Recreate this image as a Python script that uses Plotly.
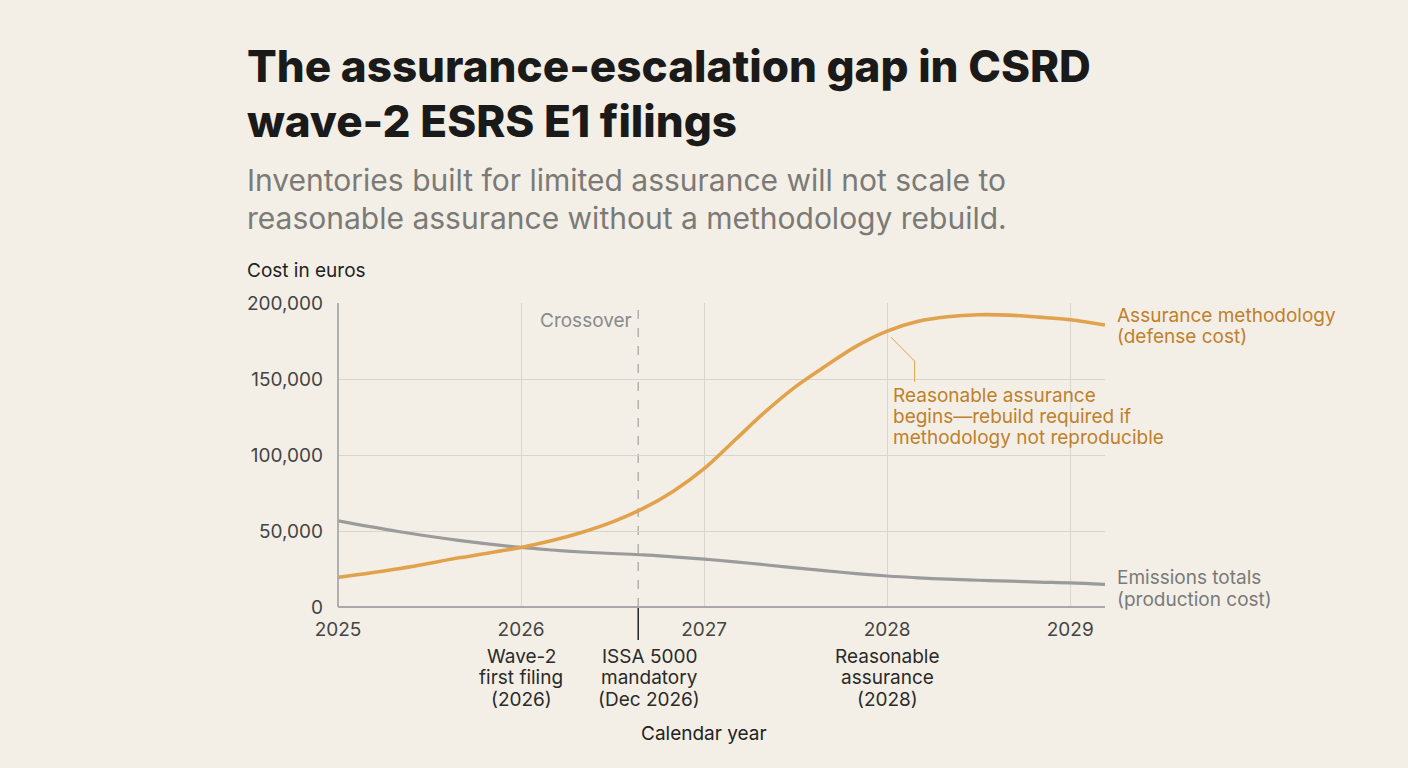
import plotly.graph_objects as go

# ---- data ----
years = [2025.00, 2025.33, 2025.67, 2026.00, 2026.17, 2026.33, 2026.50, 2026.67, 2026.83,
         2027.00, 2027.17, 2027.33, 2027.50, 2027.67, 2027.83, 2028.00, 2028.17, 2028.33,
         2028.50, 2028.67, 2028.83, 2029.00, 2029.19]
assurance_cost = [19500, 25200, 32500, 39200, 43700, 49000, 56000, 65000, 76000,
                  91000, 110000, 128000, 145000, 159000, 171500, 181500, 188000, 191000,
                  192300, 192000, 190700, 189000, 185500]
emissions_cost = [56700, 49700, 43700, 39200, 37500, 36200, 35200, 34300, 33000,
                  31500, 29700, 27800, 25700, 23800, 22000, 20400, 19200, 18300,
                  17600, 17000, 16400, 15900, 14900]
tick_years = [2025, 2026, 2027, 2028, 2029]
y_ticks = [0, 50000, 100000, 150000, 200000]
crossover_x = 2026.64
milestone_x = [2026, 2026.70, 2028]
milestone_text = [
    ["Wave-2", "first filing", "(2026)"],
    ["ISSA 5000", "mandatory", "(Dec 2026)"],
    ["Reasonable", "assurance", "(2028)"],
]
title_lines = ["The assurance-escalation gap in CSRD", "wave-2 ESRS E1 filings"]
subtitle_lines = ["Inventories built for limited assurance will not scale to",
                  "reasonable assurance without a methodology rebuild."]
callout_lines = ["Reasonable assurance", "begins\u2014rebuild required if",
                 "methodology not reproducible"]
assurance_label = ["Assurance methodology", "(defense cost)"]
emissions_label = ["Emissions totals", "(production cost)"]

# ---- style ----
BG = "#F3EFE6"
ORANGE = "#E2A24C"
ORANGE_TXT = "#C0802C"
GRAY = "#9B9B9B"
GRAY_TXT = "#7A7A7A"
FONT = "Inter"

W, H = 1408, 768
L, R, T, B = 338, 1105, 303, 607


def px(xp):
    return (xp - L) / (R - L)


def py(yp):
    return (B - yp) / (B - T)


fig = go.Figure()
fig.add_trace(go.Scatter(x=years, y=emissions_cost, mode="lines",
                         line=dict(color=GRAY, width=3.2, shape="spline", smoothing=1.0),
                         hoverinfo="skip", showlegend=False))
fig.add_trace(go.Scatter(x=years, y=assurance_cost, mode="lines",
                         line=dict(color=ORANGE, width=3.6, shape="spline", smoothing=1.0),
                         hoverinfo="skip", showlegend=False))

# crossover dashed line
fig.add_shape(type="line", xref="x", yref="paper", x0=crossover_x, x1=crossover_x,
              y0=0, y1=1, line=dict(color="#A8A8A8", width=1.3, dash="dash"), layer="below")
# black tick below the axis
fig.add_shape(type="line", xref="x", yref="paper", x0=crossover_x, x1=crossover_x,
              y0=0, y1=py(640), line=dict(color="#222222", width=1.5))
# leader line for the callout
fig.add_shape(type="path", xref="x", yref="y",
              path="M 2028.02 177600 L 2028.15 161800 L 2028.15 148000",
              line=dict(color=ORANGE, width=1))

ann = []


def add_lines(lines, x, y0, step, xref="paper", xanchor="left", size=19, color="#222",
              weight=400, xshift=0):
    for i, t in enumerate(lines):
        ann.append(dict(text=t, x=x, y=py(y0 + i * step), xref=xref, yref="paper",
                        xanchor=xanchor, yanchor="middle", showarrow=False, xshift=xshift,
                        font=dict(family=FONT, size=size, color=color, weight=weight)))


add_lines(title_lines, px(245), 66, 55, size=44, color="#1A1A1A", weight=800)
add_lines(subtitle_lines, px(245), 180, 38, size=30, color="#7B7A76")
add_lines(["Cost in euros"], px(245), 270, 0, size=19, color="#222222")
add_lines(["Calendar year"], px(704), 733, 0, xanchor="center", size=19, color="#222222")
add_lines(["Crossover"], crossover_x, 320, 0, xref="x", xanchor="right", size=19,
          color="#8A8A8A", xshift=-4)
for mx, mt in zip(milestone_x, milestone_text):
    add_lines(mt, mx, 656, 21.5, xref="x", xanchor="center", size=19, color="#2A2A2A")
add_lines(callout_lines, px(891), 395, 21, size=19, color=ORANGE_TXT)
add_lines(assurance_label, px(1115), 315, 21, size=19, color=ORANGE_TXT)
add_lines(emissions_label, px(1115), 577, 22, size=19, color=GRAY_TXT)

fig.update_layout(
    width=W, height=H,
    margin=dict(l=L, r=W - R, t=T, b=H - B),
    paper_bgcolor=BG, plot_bgcolor=BG,
    annotations=ann,
    font=dict(family=FONT),
    xaxis=dict(range=[2025, 2029.19], tickvals=tick_years,
               ticktext=[str(t) for t in tick_years],
               showgrid=True, gridcolor="#D8D5CE", gridwidth=1,
               zeroline=False, showline=False, ticks="", ticklabelstandoff=9,
               tickfont=dict(family=FONT, size=19, color="#444444"), fixedrange=True),
    yaxis=dict(range=[0, 200000], tickvals=y_ticks,
               ticktext=[f"{v:,}" for v in y_ticks],
               showgrid=True, gridcolor="#D8D5CE", gridwidth=1,
               zeroline=False, showline=False, ticks="", ticklabelstandoff=14,
               tickfont=dict(family=FONT, size=19, color="#444444"), fixedrange=True),
)
# axis lines (left and bottom)
fig.add_shape(type="line", xref="paper", yref="paper", x0=0, x1=1, y0=0, y1=0,
              line=dict(color="#A9A9A9", width=1.8))
fig.add_shape(type="line", xref="paper", yref="paper", x0=0, x1=0, y0=0, y1=1,
              line=dict(color="#A9A9A9", width=1.8))

fig.write_html("out.html", config={"displayModeBar": False},
               post_script="document.body.style.margin='0';"
                           "document.body.style.overflow='hidden';"
                           "document.body.style.background='%s';" % BG)
